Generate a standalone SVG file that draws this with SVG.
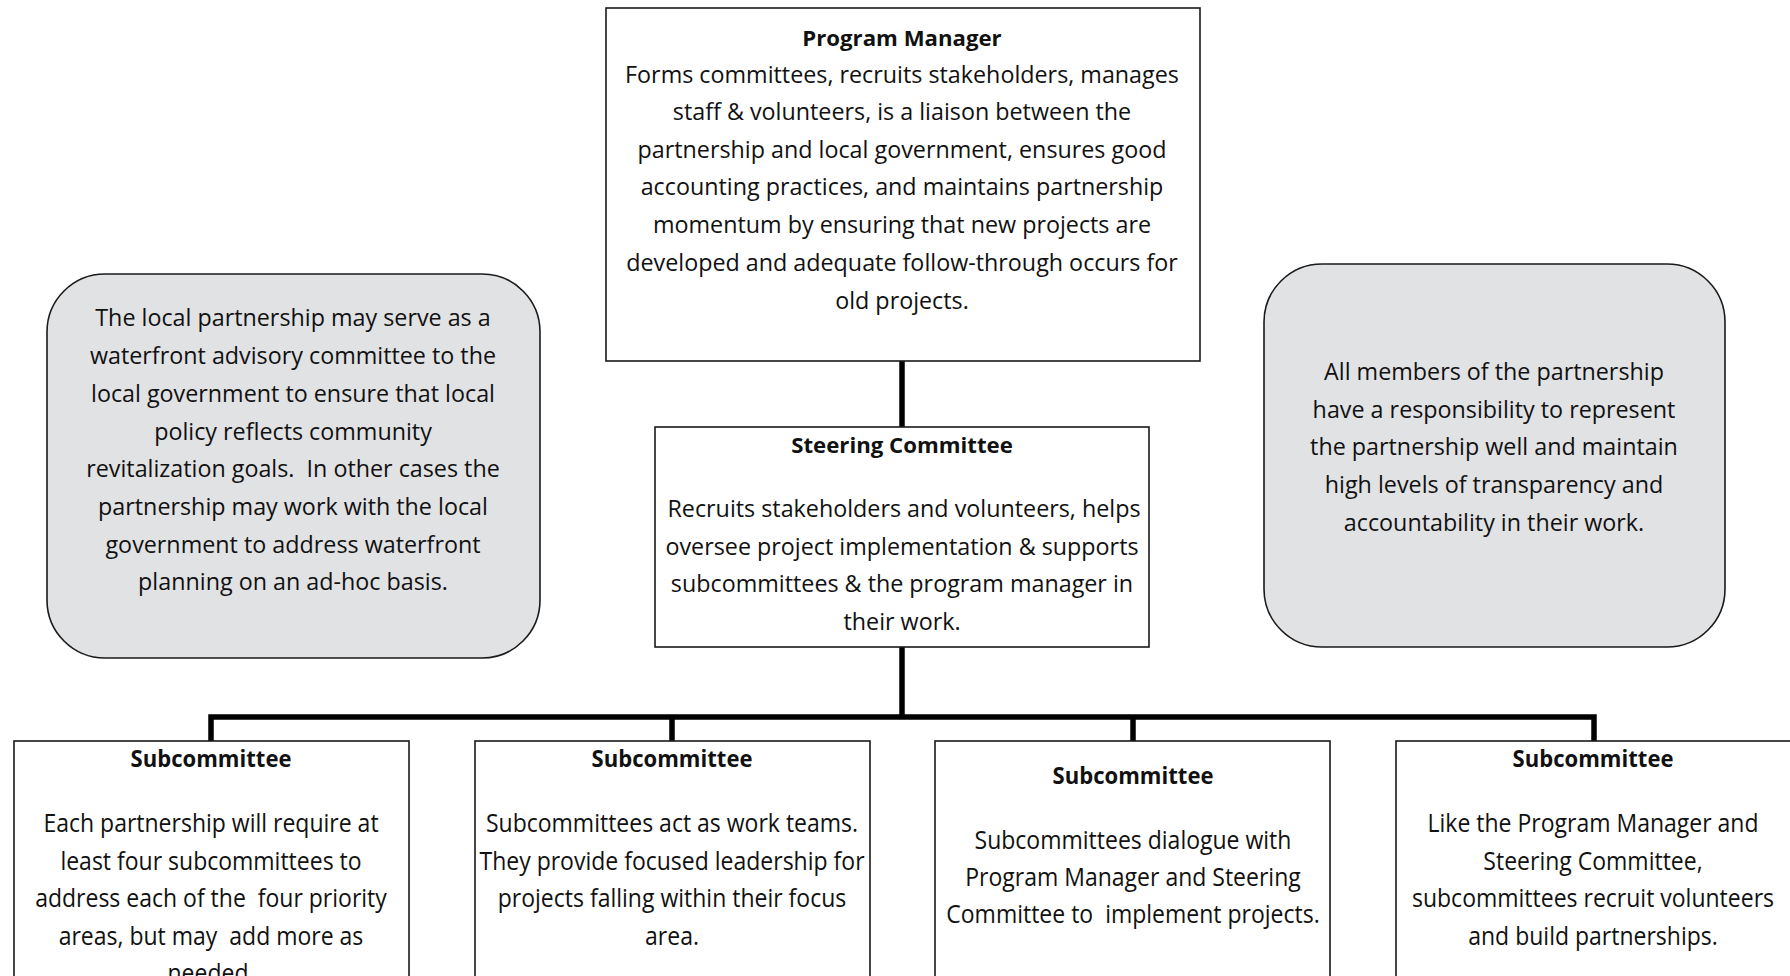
<svg xmlns="http://www.w3.org/2000/svg" width="1790" height="976" viewBox="0 0 1790 976">
  <style>
    .box { fill: #ffffff; stroke: #1a1a1a; stroke-width: 1.6; }
    .note { fill: #e1e2e4; stroke: #1a1a1a; stroke-width: 1.6; }
    .link { fill: none; stroke: #000000; stroke-width: 5.5; stroke-linecap: butt; stroke-linejoin: miter; }
    text { font-family: "Open Sans", "Noto Sans", "Liberation Sans", sans-serif; fill: #111111; text-anchor: middle; }
    .t { font-size: 23.3px; }
    .h { font-size: 22.2px; font-weight: bold; }
    .st { font-size: 25px; }
    .sh { font-size: 24px; font-weight: bold; }
  </style>

  <!-- connectors -->
  <g id="connectors">
    <line class="link" x1="902" y1="361" x2="902" y2="427"/>
    <line class="link" x1="902" y1="647" x2="902" y2="717"/>
    <polyline class="link" points="211,741 211,717 1594,717 1594,741"/>
    <line class="link" x1="672" y1="717" x2="672" y2="741"/>
    <line class="link" x1="1133" y1="717" x2="1133" y2="741"/>
  </g>

  <!-- Program Manager -->
  <g id="program-manager">
    <rect class="box" x="606" y="8" width="594" height="353"/>
    <text class="h" x="902" y="46">Program Manager</text>
    <text class="t" x="902" y="83">Forms committees, recruits stakeholders, manages</text>
    <text class="t" x="902" y="120">staff &amp; volunteers, is a liaison between the</text>
    <text class="t" x="902" y="158">partnership and local government, ensures good</text>
    <text class="t" x="902" y="195">accounting practices, and maintains partnership</text>
    <text class="t" x="902" y="233">momentum by ensuring that new projects are</text>
    <text class="t" x="902" y="271">developed and adequate follow-through occurs for</text>
    <text class="t" x="902" y="309">old projects.</text>
  </g>

  <!-- Steering Committee -->
  <g id="steering-committee">
    <rect class="box" x="655" y="427" width="494" height="220"/>
    <text class="h" x="902" y="453">Steering Committee</text>
    <text class="t" x="904" y="517">Recruits stakeholders and volunteers, helps</text>
    <text class="t" x="902" y="555">oversee project implementation &amp; supports</text>
    <text class="t" x="902" y="592">subcommittees &amp; the program manager in</text>
    <text class="t" x="902" y="630">their work.</text>
  </g>

  <!-- side note, left -->
  <g id="note-advisory">
    <rect class="note" x="47" y="274" width="493" height="384" rx="58" ry="58"/>
    <text class="t" x="293" y="326">The local partnership may serve as a</text>
    <text class="t" x="293" y="364">waterfront advisory committee to the</text>
    <text class="t" x="293" y="402">local government to ensure that local</text>
    <text class="t" x="293" y="440">policy reflects community</text>
    <text class="t" x="293" y="477" xml:space="preserve">revitalization goals.  In other cases the</text>
    <text class="t" x="293" y="515">partnership may work with the local</text>
    <text class="t" x="293" y="553">government to address waterfront</text>
    <text class="t" x="293" y="590">planning on an ad-hoc basis.</text>
  </g>

  <!-- side note, right -->
  <g id="note-members">
    <rect class="note" x="1264" y="264" width="461" height="383" rx="58" ry="58"/>
    <text class="t" x="1494" y="380">All members of the partnership</text>
    <text class="t" x="1494" y="418">have a responsibility to represent</text>
    <text class="t" x="1494" y="455">the partnership well and maintain</text>
    <text class="t" x="1494" y="493">high levels of transparency and</text>
    <text class="t" x="1494" y="531">accountability in their work.</text>
  </g>

  <!-- subcommittees -->
  <g id="subcommittee-1">
    <rect class="box" x="14" y="741" width="395" height="250"/>
    <g transform="translate(211,0) scale(0.92,1)">
      <text class="sh" x="0" y="767">Subcommittee</text>
      <text class="st" x="0" y="832">Each partnership will require at</text>
      <text class="st" x="0" y="870">least four subcommittees to</text>
      <text class="st" x="0" y="907" xml:space="preserve">address each of the  four priority</text>
      <text class="st" x="0" y="945" xml:space="preserve">areas, but may  add more as</text>
      <text class="st" x="0" y="982">needed.</text>
    </g>
  </g>

  <g id="subcommittee-2">
    <rect class="box" x="475" y="741" width="395" height="250"/>
    <g transform="translate(672,0) scale(0.92,1)">
      <text class="sh" x="0" y="767">Subcommittee</text>
      <text class="st" x="0" y="832">Subcommittees act as work teams.</text>
      <text class="st" x="0" y="870">They provide focused leadership for</text>
      <text class="st" x="0" y="907">projects falling within their focus</text>
      <text class="st" x="0" y="945">area.</text>
    </g>
  </g>

  <g id="subcommittee-3">
    <rect class="box" x="935" y="741" width="395" height="250"/>
    <g transform="translate(1133,0) scale(0.92,1)">
      <text class="sh" x="0" y="784">Subcommittee</text>
      <text class="st" x="0" y="849">Subcommittees dialogue with</text>
      <text class="st" x="0" y="886">Program Manager and Steering</text>
      <text class="st" x="0" y="923" xml:space="preserve">Committee to  implement projects.</text>
    </g>
  </g>

  <g id="subcommittee-4">
    <rect class="box" x="1396" y="741" width="400" height="250"/>
    <g transform="translate(1593,0) scale(0.92,1)">
      <text class="sh" x="0" y="767">Subcommittee</text>
      <text class="st" x="0" y="832">Like the Program Manager and</text>
      <text class="st" x="0" y="870">Steering Committee,</text>
      <text class="st" x="0" y="907">subcommittees recruit volunteers</text>
      <text class="st" x="0" y="945">and build partnerships.</text>
    </g>
  </g>
</svg>
